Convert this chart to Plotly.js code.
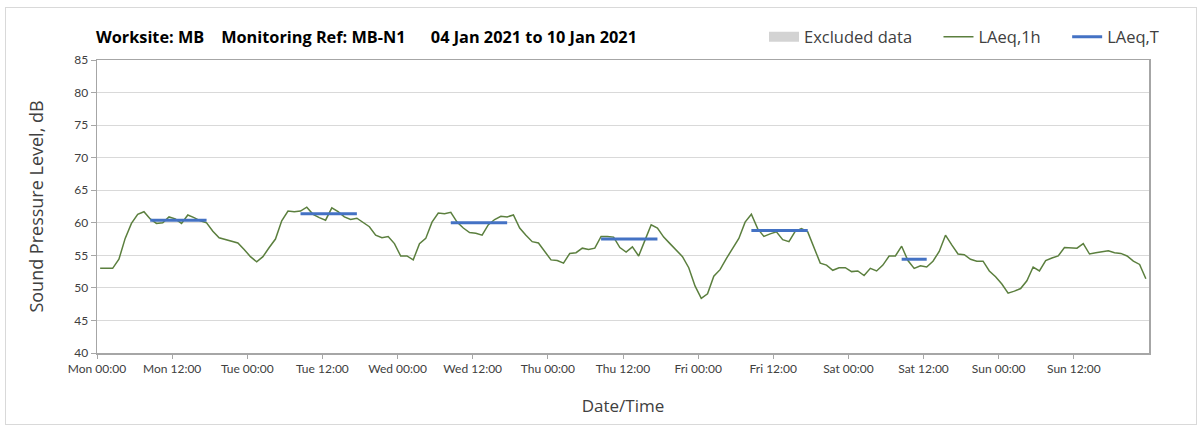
<!DOCTYPE html>
<html>
<head>
<meta charset="utf-8">
<script src="https://cdn.plot.ly/plotly-3.0.1.min.js"></script>
<style>
html,body{margin:0;padding:0;background:#fff;}
#frame{position:absolute;left:5px;top:7px;width:1192px;height:418px;border:1px solid #d9d9d9;box-sizing:border-box;}
#chart{position:absolute;left:0;top:0;width:1203px;height:431px;}
</style>
</head>
<body>
<div id="frame"></div>
<div id="chart"></div>
<script>
// Days of the monitoring week
const dayDates = ['2021-01-04','2021-01-05','2021-01-06','2021-01-07','2021-01-08','2021-01-09','2021-01-10'];

// Hourly LAeq,1h values (dB), hours 00..23 of each day
const mon = [53.0,53.0,53.0,54.4,57.6,59.9,61.3,61.7,60.6,59.9,60.0,60.9,60.6,59.9,61.2,60.8,60.3,60.0,58.7,57.7,57.4,57.2,56.9,55.9];
const tue = [54.8,54.0,54.8,56.2,57.5,60.3,61.8,61.7,61.8,62.4,61.3,60.8,60.4,62.3,61.7,60.9,60.5,60.7,60.0,59.4,58.1,57.7,57.9,56.8];
const wed = [54.9,54.9,54.3,56.8,57.6,60.1,61.5,61.4,61.6,60.1,59.2,58.5,58.4,58.1,59.7,60.5,61.0,60.9,61.2,59.2,58.1,57.1,56.9,55.5];
const thu = [54.3,54.2,53.8,55.3,55.4,56.1,55.9,56.1,57.9,57.9,57.8,56.2,55.5,56.3,54.9,57.3,59.7,59.2,57.8,56.8,55.8,54.8,53.1,50.3];
const fri = [48.4,49.1,51.8,52.8,54.5,56.1,57.6,60.1,61.3,59.1,57.9,58.3,58.6,57.4,57.1,58.7,59.1,58.6,56.2,53.8,53.5,52.7,53.1,53.1];
const sat = [52.5,52.6,51.9,53.0,52.6,53.5,54.9,54.9,56.4,54.2,53.0,53.4,53.2,54.1,55.6,58.1,56.6,55.2,55.1,54.4,54.1,54.1,52.6,51.7];
const sun = [50.6,49.2,49.5,49.9,51.1,53.2,52.6,54.2,54.6,54.9,56.2,56.2,56.1,56.8,55.2,55.4,55.6,55.7,55.4,55.3,54.9,54.1,53.6,51.4];

// LAeq,T period values
const ltDates  = ['2021-01-04','2021-01-05','2021-01-06','2021-01-07','2021-01-08','2021-01-09'];
const ltStart  = ['08:30','08:30','08:30','08:30','08:30','08:30'];
const ltEnd    = ['17:30','17:30','17:30','17:30','17:30','12:30'];
const ltValues = [60.4,61.4,60.0,57.5,58.8,54.4];

// Excluded data periods (none in this week)
const excludedX = [];
const excludedY = [];

// x tick times of day
const tickTimes = ['00:00','12:00'];

const dailyValues = [mon,tue,wed,thu,fri,sat,sun];
const hourX = [], hourY = [];
dailyValues.forEach((vals, d) => {
  vals.forEach((v, h) => {
    hourX.push(dayDates[d] + ' ' + String(h).padStart(2,'0') + ':30');
    hourY.push(v);
  });
});

const ltX = [], ltY = [];
ltValues.forEach((v, i) => {
  ltX.push(ltDates[i] + ' ' + ltStart[i], ltDates[i] + ' ' + ltEnd[i], null);
  ltY.push(v, v, null);
});

const tickVals = [], gridVals = [];
dayDates.forEach(d => {
  tickTimes.forEach(t => tickVals.push(d + ' ' + t));
  gridVals.push(d + ' 00:00');
});

const FONT = '"Open Sans", Lato, sans-serif';
const TICKFONT = 'Lato, "Open Sans", sans-serif';
const AX = '#a6a6a6';
const GRID = '#d9d9d9';
const xRange = ['2021-01-04 00:00', '2021-01-11 00:00'];
const N = '\u00a0';
const GAP = N+N+N+N+N;

const traces = [
  {type:'scatter', mode:'lines', x: excludedX.length ? excludedX : [null], y: excludedY.length ? excludedY : [null],
   name:'Excluded data' + GAP, line:{color:'#d3d3d3', width:10}, showlegend:true},
  {type:'scatter', mode:'lines', x: hourX, y: hourY, name:'LAeq,1h' + GAP, line:{color:'#5b7f3e', width:1.5}},
  {type:'scatter', mode:'lines', x: ltX, y: ltY, name:'LAeq,T', line:{color:'#4472c4', width:3}, connectgaps:false}
];

const layout = {
  width:1203, height:431,
  margin:{l:97, r:54, t:60, b:78},
  paper_bgcolor:'rgba(0,0,0,0)',
  plot_bgcolor:'#ffffff',
  font:{family:FONT, color:'#404040'},
  title:{
    text:'<b>Worksite: MB' + N+N+N+N + 'Monitoring Ref: MB-N1' + N+N+N+N+N+N + '04 Jan 2021 to 10 Jan 2021</b>',
    font:{family:FONT, size:16.3, color:'#000000'},
    xref:'container', x:96/1203, xanchor:'left',
    yref:'container', y:1-37/431, yanchor:'middle'
  },
  showlegend:true,
  legend:{
    orientation:'h', xref:'container', yref:'container',
    x:764/1203, xanchor:'left', y:1-37/431, yanchor:'middle',
    font:{family:FONT, size:16.5, color:'#404040'},
    bgcolor:'rgba(0,0,0,0)', traceorder:'normal'
  },
  xaxis:{
    type:'date', range:xRange,
    tickmode:'array', tickvals:tickVals, tickformat:'%a %H:%M',
    ticks:'outside', ticklen:4, tickcolor:AX, tickwidth:1,
    showgrid:false, zeroline:false,
    showline:true, linecolor:AX, linewidth:1.5, mirror:true,
    tickfont:{family:TICKFONT, size:12, color:'#404040'},
    title:{text:'Date/Time' + N+N+N+N, font:{family:FONT, size:17, color:'#404040'}, standoff:25}
  },
  xaxis2:{
    type:'date', range:xRange, overlaying:'x', side:'bottom',
    tickmode:'array', tickvals:gridVals,
    showgrid:true, gridcolor:GRID, gridwidth:1,
    showticklabels:false, ticks:'', showline:false, zeroline:false
  },
  yaxis:{
    range:[40,85], dtick:5, tick0:40,
    ticks:'outside', ticklen:5, tickcolor:AX, tickwidth:1,
    showgrid:true, gridcolor:GRID, gridwidth:1, zeroline:false,
    showline:true, linecolor:AX, linewidth:1.5, mirror:true,
    tickfont:{family:TICKFONT, size:12, color:'#404040'},
    title:{text:'Sound Pressure Level, dB', font:{family:FONT, size:18, color:'#404040'}, standoff:26}
  },
  hovermode:false
};

Plotly.newPlot('chart', traces, layout, {displayModeBar:false, staticPlot:true});
</script>
</body>
</html>
